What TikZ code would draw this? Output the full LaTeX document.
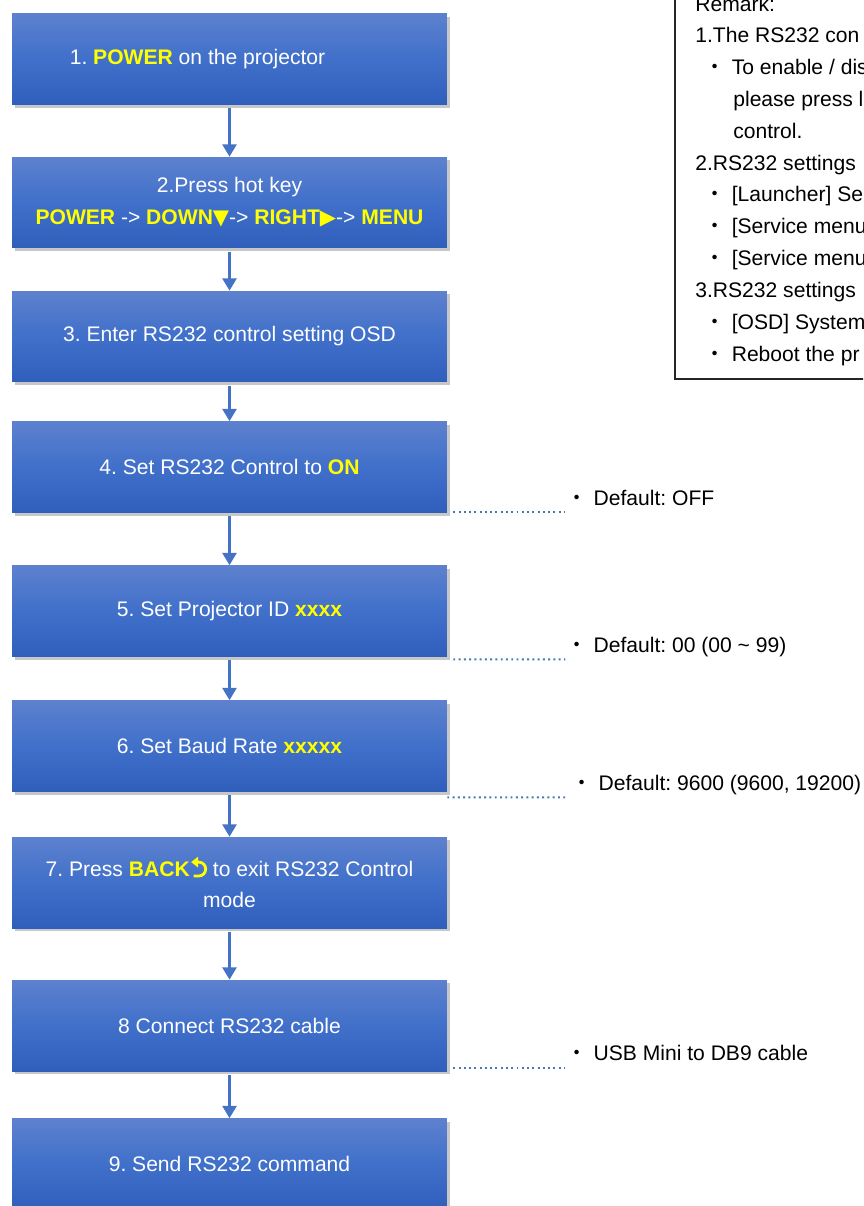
\documentclass[tikz,border=0pt]{standalone}
\usepackage{fontspec}
\setmainfont{Liberation Sans}
\newfontfamily\symfont{DejaVu Sans}
\newfontfamily\cjk{Noto Sans CJK JP}
\usetikzlibrary{arrows.meta,shadows,calc}
\frenchspacing

\definecolor{boxtop}{RGB}{93,129,206}
\definecolor{boxmid}{RGB}{64,112,202}
\definecolor{boxbot}{RGB}{47,95,187}
\definecolor{flowblue}{RGB}{68,114,196}
\definecolor{linkblue}{RGB}{70,120,180}
\definecolor{keyyellow}{RGB}{255,255,0}

\newcommand{\key}[1]{\textcolor{keyyellow}{\bfseries #1}}
\newcommand{\dotmark}{{\cjk ・} }
\newcommand{\backsym}{\tikz[baseline=0pt]\draw[keyyellow,line width=1.6pt,{Triangle[width=6pt,length=4pt]}-] (0,0.66em) -- (0.36em,0.66em) arc[start angle=90,end angle=-90,radius=0.33em] -- (0.12em,0);}

\tikzset{
  stepbox/.style={minimum width=8.7cm, minimum height=1.82cm, inner sep=0pt,
    align=center, text=white, font=\fontsize{12}{18.2}\selectfont,
    top color=boxtop, bottom color=boxbot, middle color=boxmid,
    drop shadow={shadow xshift=1.8pt, shadow yshift=-1.8pt, opacity=0.22, fill=black}},
  flow/.style={flowblue, line width=1.4pt, -{Triangle[width=8pt,length=7pt]}, shorten <=2pt},
  link/.style={linkblue, line width=1.1pt, dash pattern=on 1.1pt off 1.9pt},
  note/.style={font=\fontsize{12}{14}\selectfont, inner sep=0pt},
  remark/.style={font=\fontsize{12}{18.1}\selectfont, inner sep=0pt, align=left},
}

\begin{document}
\begin{tikzpicture}[x=0.02cm, y=-0.02cm]
\useasboundingbox (0,0) rectangle (863,1206);
\clip (0,0) rectangle (863,1206);

\node[stepbox] (b1) at (229.5,59)    {1. \key{POWER} on the projector\hspace*{1.28cm}};
\node[stepbox] (b2) at (229.5,202.5) {2.Press hot key\\\key{POWER} -> \key{DOWN{\symfont ▼}}-> \key{RIGHT{\symfont ▶}}-> \key{MENU}};
\node[stepbox] (b3) at (229.5,336.5) {3. Enter RS232 control setting OSD};
\node[stepbox] (b4) at (229.5,467)   {4. Set RS232 Control to \key{ON}};
\node[stepbox] (b5) at (229.5,611)   {5. Set Projector ID \key{xxxx}};
\node[stepbox] (b6) at (229.5,746)   {6. Set Baud Rate \key{xxxxx}};
\node[stepbox] (b7) at (229.5,882.5) {7. Press \key{BACK\backsym} to exit RS232 Control\\mode};
\node[stepbox] (b8) at (229.5,1025.5) {8 Connect RS232 cable};
\node[stepbox] (b9) at (229.5,1164)  {9. Send RS232 command};

\foreach \a/\b in {b1/b2, b2/b3, b3/b4, b4/b5, b5/b6, b6/b7, b7/b8, b8/b9}
  \draw[flow] (\a) -- (\b);

\node[note, anchor=base west] (n4) at ($(b4.south east)+(119,-7.5)$) {\dotmark Default: OFF};
\node[note, anchor=base west] (n5) at ($(b5.south east)+(119,-4.5)$) {\dotmark Default: 00 (00 \textasciitilde{} 99)};
\node[note, anchor=base west] (n6) at ($(b6.south east)+(124,-1.5)$) {\dotmark Default: 9600 (9600, 19200)};
\node[note, anchor=base west] (n8) at ($(b8.south east)+(119,-11)$)  {\dotmark USB Mini to DB9 cable};

\draw[link] ($(b4.south east)+(6,-1)$)  -- ($(n4.base west)+(-1,6.5)$);
\draw[link] ($(b5.south east)+(6,2.5)$) -- ($(n5.base west)+(-1,7)$);
\draw[link] ($(b6.south east)+(0,5.5)$) -- ($(n6.base west)+(-6,7)$);
\draw[link] ($(b8.south east)+(6,-3)$)  -- ($(n8.base west)+(-1,8)$);

\draw[line width=0.85pt, black!85] (675,-20) rectangle (900,379);
\node[remark, anchor=base west] (rem) at (695,361) {Remark:\\
1.The RS232 con\\
\hspace*{0.19cm}\dotmark To enable / dis\\
\hspace*{0.76cm}please press l\\
\hspace*{0.76cm}control.\\
2.RS232 settings\\
\hspace*{0.19cm}\dotmark [Launcher] Se\\
\hspace*{0.19cm}\dotmark [Service menu\\
\hspace*{0.19cm}\dotmark [Service menu\\
3.RS232 settings\\
\hspace*{0.19cm}\dotmark [OSD] System\\
\hspace*{0.19cm}\dotmark Reboot the pr};
\end{tikzpicture}
\end{document}
